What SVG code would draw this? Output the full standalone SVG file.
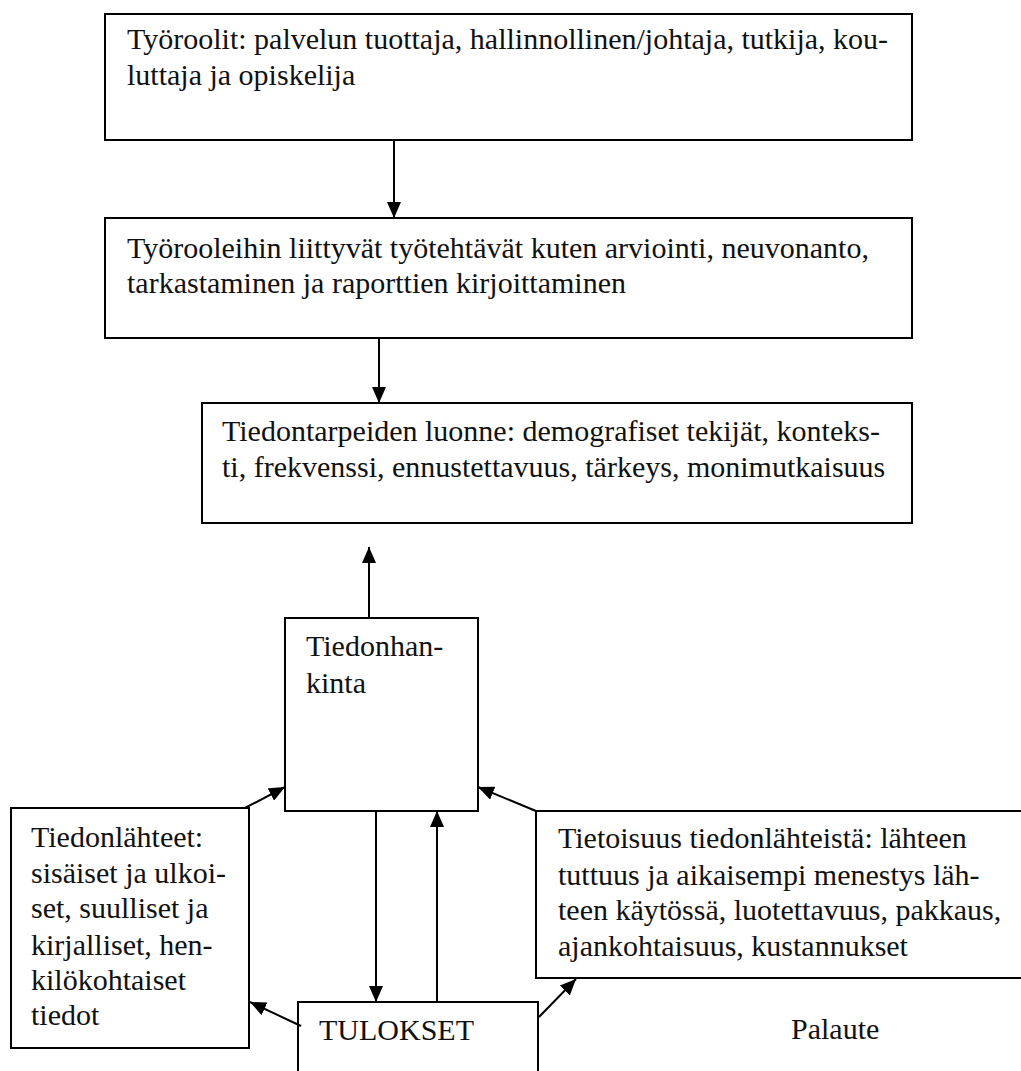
<svg xmlns="http://www.w3.org/2000/svg" width="1021" height="1071" viewBox="0 0 1021 1071">
<style>
.box{fill:#fff;stroke:#000;stroke-width:2}
.t{font-family:"Liberation Serif","Times New Roman",serif;font-size:30px;fill:#111}
.c{stroke:#000;stroke-width:2;fill:none;marker-end:url(#ah)}
</style>
<defs>
<marker id="ah" viewBox="0 0 16 14" refX="16" refY="7" markerWidth="16" markerHeight="14" markerUnits="userSpaceOnUse" orient="auto">
<path d="M0,0 L16,7 L0,14 Z" fill="#000"/>
</marker>
</defs>
<rect width="1021" height="1071" fill="#fff"/>
<g id="n1">
<rect class="box" x="105" y="14" width="807" height="126"/>
<text class="t" x="127" y="49">Työroolit: palvelun tuottaja, hallinnollinen/johtaja, tutkija, kou-</text>
<text class="t" x="127" y="85">luttaja ja opiskelija</text>
</g>
<g id="n2">
<rect class="box" x="105" y="218" width="807" height="120"/>
<text class="t" x="127" y="258">Työrooleihin liittyvät työtehtävät kuten arviointi, neuvonanto,</text>
<text class="t" x="127" y="293">tarkastaminen ja raporttien kirjoittaminen</text>
</g>
<g id="n3">
<rect class="box" x="202" y="403" width="710" height="120"/>
<text class="t" x="222" y="441">Tiedontarpeiden luonne: demografiset tekijät, konteks-</text>
<text class="t" x="222" y="477">ti, frekvenssi, ennustettavuus, tärkeys, monimutkaisuus</text>
</g>
<g id="n4">
<rect class="box" x="285" y="618" width="193" height="193"/>
<text class="t" x="306" y="656">Tiedonhan-</text>
<text class="t" x="306" y="693">kinta</text>
</g>
<g id="n5">
<rect class="box" x="11" y="808" width="238" height="240"/>
<text class="t" x="31" y="847">Tiedonlähteet:</text>
<text class="t" x="31" y="883">sisäiset ja ulkoi-</text>
<text class="t" x="31" y="918">set, suulliset ja</text>
<text class="t" x="31" y="955">kirjalliset, hen-</text>
<text class="t" x="31" y="990">kilökohtaiset</text>
<text class="t" x="31" y="1025">tiedot</text>
</g>
<g id="n6">
<rect class="box" x="536" y="811" width="495" height="167"/>
<text class="t" x="558" y="848">Tietoisuus tiedonlähteistä: lähteen</text>
<text class="t" x="558" y="885">tuttuus ja aikaisempi menestys läh-</text>
<text class="t" x="558" y="920">teen käytössä, luotettavuus, pakkaus,</text>
<text class="t" x="558" y="956">ajankohtaisuus, kustannukset</text>
</g>
<g id="n7">
<rect class="box" x="298" y="1002" width="240" height="80"/>
<text class="t" x="319" y="1040">TULOKSET</text>
</g>
<g id="n8">
<text class="t" x="791" y="1039">Palaute</text>
</g>
<g id="connectors">
<line class="c" x1="394" y1="140" x2="394" y2="218"/>
<line class="c" x1="379" y1="338" x2="379" y2="403"/>
<line class="c" x1="369" y1="618" x2="369" y2="547"/>
<line class="c" x1="245" y1="808" x2="285" y2="787"/>
<line class="c" x1="536" y1="811" x2="478" y2="787"/>
<line class="c" x1="376" y1="811" x2="376" y2="1002"/>
<line class="c" x1="437" y1="1002" x2="437" y2="811"/>
<line class="c" x1="301" y1="1026" x2="250" y2="1002"/>
<line class="c" x1="539" y1="1017" x2="576" y2="979"/>
</g>
</svg>
